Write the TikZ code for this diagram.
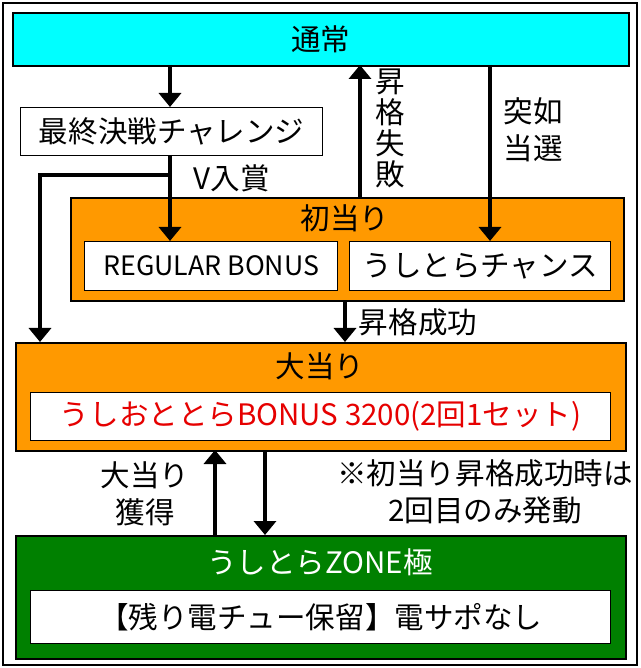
\documentclass[tikz,border=0pt]{standalone}
\usepackage{fontspec}
\setmainfont{Noto Sans CJK JP}
\usetikzlibrary{arrows.meta,positioning}
\definecolor{hcyan}{RGB}{0,255,255}
\definecolor{horange}{RGB}{255,153,0}
\definecolor{hgreen}{RGB}{0,128,0}
\definecolor{hred}{RGB}{230,0,0}
\tikzset{
  panel/.style={draw=black, line width=1.2pt, anchor=north west, inner sep=0pt},
  innerbox/.style={draw=black, line width=1pt, fill=white, anchor=north west, inner sep=0pt},
  boxtext/.style={font=\fontsize{21}{26}\selectfont},
  flow/.style={line width=3.5pt, -{Triangle[length=3.5mm,width=5.5mm]}},
}
\begin{document}
\begin{tikzpicture}[x=0.025cm,y=-0.025cm]
\useasboundingbox (0,0) rectangle (640,668);
\fill[white] (0,0) rectangle (640,668);
\draw[line width=1.5pt] (3,3) rectangle (637,665);
% -- boxes --
\node[panel, fill=hcyan, minimum width=616*0.025cm, minimum height=53*0.025cm] (normal) at (12,12) {};
\node[boxtext] at (normal.center) {通常};
\node[innerbox, minimum width=302*0.025cm, minimum height=48*0.025cm] (final) at (20,107) {};
\node[boxtext] at (final.center) {最終決戦チャレンジ};
\node[panel, fill=horange, minimum width=553*0.025cm, minimum height=103*0.025cm] (first) at (70,197) {};
\node[boxtext] at (345,218) {初当り};
\node[innerbox, minimum width=253*0.025cm, minimum height=49*0.025cm] (rb) at (84,241) {};
\node[boxtext, font=\fontsize{19}{22}\selectfont] at (rb.center) {REGULAR BONUS};
\node[innerbox, minimum width=261*0.025cm, minimum height=49*0.025cm] (chance) at (349,241) {};
\node[boxtext] at (chance.center) {うしとらチャンス};
\node[panel, fill=horange, minimum width=610*0.025cm, minimum height=108*0.025cm] (big) at (15,342) {};
\node[boxtext] at (320,366) {大当り};
\node[innerbox, minimum width=580*0.025cm, minimum height=48*0.025cm] (bonus) at (30,392) {};
\node[boxtext, text=hred] at (bonus.center) {うしおととらBONUS 3200(2回1セット)};
\node[panel, fill=hgreen, minimum width=610*0.025cm, minimum height=123*0.025cm] (zone) at (15,535) {};
\node[boxtext, text=white] at (320,562) {うしとらZONE極};
\node[innerbox, minimum width=580*0.025cm, minimum height=53*0.025cm] (hold) at (30,590) {};
\node[boxtext] at (hold.center) {【残り電チュー保留】電サポなし};
% -- arrows --
\coordinate (split) at (170,175);
\draw[flow] (170,65) -- (170,107);
\draw[flow] (170,155) -- (170,241);
\draw[line width=3.5pt] (split) -- (40,175);
\draw[flow] (40,173.3) -- (40,342);
\draw[flow] (360,197) -- (360,65);
\draw[flow] (490,65) -- (490,241);
\draw[flow] (345,300) -- (345,342);
\draw[flow] (215,535) -- (215,450);
\draw[flow] (265,450) -- (265,535);
% -- labels --
\node[boxtext, align=center, font=\fontsize{21}{22}\selectfont] at (390,128) {昇\\格\\失\\敗};
\node[boxtext, align=center] at (533,130) {突如\\当選};
\node[boxtext] at (232,178) {V入賞};
\node[boxtext] at (418,322) {昇格成功};
\node[boxtext, align=center] at (145,494) {大当り\\獲得};
\node[boxtext, align=center] at (485,492) {※初当り昇格成功時は\\2回目のみ発動};
\end{tikzpicture}
\end{document}
